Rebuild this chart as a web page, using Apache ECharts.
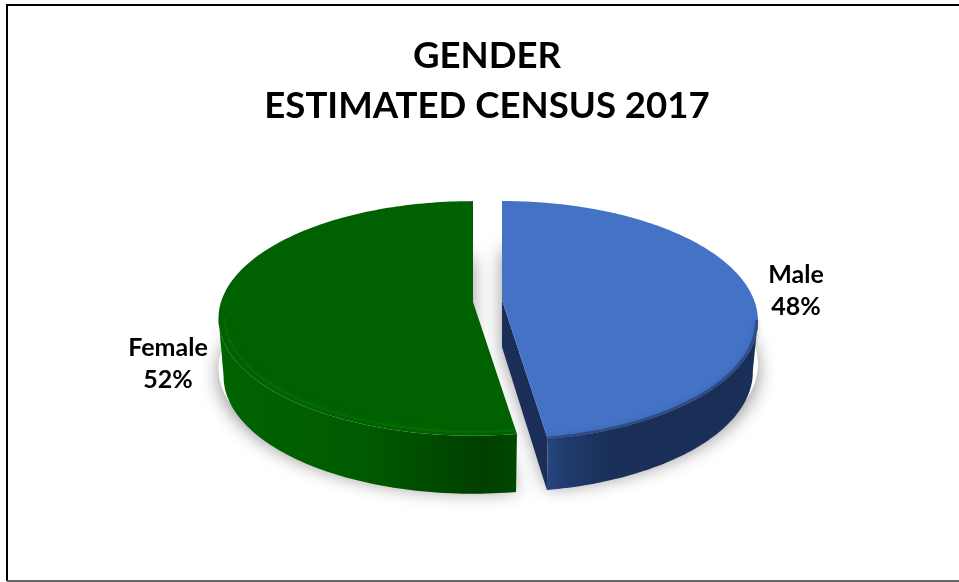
<!DOCTYPE html>
<html><head><meta charset="utf-8">
<style>html,body{margin:0;padding:0;background:#fff}#c{width:959px;height:582px}</style>
<script src="https://cdn.jsdelivr.net/npm/echarts@6/dist/echarts.min.js"></script>
</head><body><div id="c"></div>
<script>
const categories = ['Male', 'Female'];
const shares = [47.6, 52.4];
const titleLines = ['GENDER', 'ESTIMATED CENSUS 2017'];

const topColors = ['#4472C4', '#006100'];
const cutColor = '#1A2E58';
const wallStops = [
  [[0,'#28467F'],[0.10,'#203A6E'],[0.3,'#1B3059'],[1,'#1A2E58']],
  [[0,'#006400'],[0.5,'#005A00'],[0.88,'#003F00'],[1,'#004800']]
];
const bevelColors = ['rgba(26,46,88,0.5)', 'rgba(0,135,0,0.38)'];
const anchors = [[502,300],[473,302]];
const depths = [51, 58];
const radiusX = 252, radiiY = [116.3, 115], persps = [0.175, 0.14], bottomScale = 0.98;

const chart = echarts.init(document.getElementById('c'), null, {renderer:'canvas'});
const total = shares.reduce((a,b)=>a+b,0);

function proj(i, a, r) {
  const t = anchors[i], x = Math.sin(a)*r, y = -Math.cos(a)*r, w = 1 - persps[i]*y;
  return [t[0] + radiusX*x/w, t[1] + radiiY[i]*y/w];
}
function arc(i, a0, a1, r) {
  const n = 160, pts = [];
  for (let k=0;k<=n;k++) pts.push(proj(i, a0+(a1-a0)*k/n, r));
  return pts;
}
function angles(i, api) {
  const before = shares.slice(0,i).reduce((a,b)=>a+b,0);
  return [before/total*2*Math.PI, (before+api.value(1))/total*2*Math.PI];
}
function frontPart(i, pts) {
  const xs = pts.map(p=>p[0]);
  if (i===0) { return pts.slice(xs.indexOf(Math.max(...xs))); }
  return pts.slice(0, xs.indexOf(Math.min(...xs))+1);
}
function renderShadow(params, api) {
  const i = params.dataIndex, [a0,a1] = angles(i,api), t = anchors[i];
  const pts = [t].concat(arc(i,a0,a1,1)).map(p=>[p[0],p[1]+depths[i]-8]);
  return {type:'polygon',shape:{points:pts},
    style:{fill:'#fff',shadowBlur:18,shadowColor:'rgba(0,0,0,0.42)',shadowOffsetY:6}};
}
function renderBody(params, api) {
  const i = params.dataIndex, [a0,a1] = angles(i,api), t = anchors[i], d = depths[i];
  const down = p => [t[0]+(p[0]-t[0])*bottomScale, p[1]+d];
  const children = [];
  if (i===0) {
    const e = proj(i,a1,1);
    children.push({type:'polygon',shape:{points:[t,e,down(e),[t[0],t[1]+d-4]]},style:{fill:cutColor}});
  }
  const front = frontPart(i, arc(i,a0,a1,1));
  const stops = wallStops[i].map(s=>({offset:s[0],color:s[1]}));
  children.push({type:'polygon',
    shape:{points:front.concat(front.slice().reverse().map(down))},
    style:{fill:{type:'linear',x:0,y:0,x2:1,y2:0,colorStops:stops}}});
  return {type:'group',children};
}
function renderTop(params, api) {
  const i = params.dataIndex, [a0,a1] = angles(i,api);
  const inner = frontPart(i, arc(i,a0,a1,i===0?0.995:0.975));
  return {type:'group',children:[
    {type:'polygon',shape:{points:[anchors[i]].concat(arc(i,a0,a1,1))},style:{fill:topColors[i]}},
    {type:'polyline',shape:{points:inner},
      style:{fill:'none',stroke:bevelColors[i],lineWidth:i===0?3:2,shadowBlur:i===0?4:7,shadowColor:bevelColors[i]}}
  ]};
}
const data = categories.map((c,i)=>({name:c,value:[i,shares[i]]}));
const labelText = i => categories[i]+'\n'+Math.round(shares[i])+'%';
const labelStyle = {align:'center',verticalAlign:'middle',fontFamily:'Lato',fontWeight:'bold',fontSize:25,lineHeight:32,fill:'#000'};
chart.setOption({
  animation:false,
  backgroundColor:'#fff',
  title:{
    text:titleLines.join('\n'), left:482, top:26, textAlign:'center',
    textStyle:{fontFamily:'Lato',fontWeight:'bold',fontSize:36.6,lineHeight:50,color:'#000'}
  },
  graphic:[
    {type:'line',shape:{x1:7,y1:5,x2:959,y2:5},style:{stroke:'#000',lineWidth:2},silent:true},
    {type:'line',shape:{x1:7,y1:4,x2:7,y2:581},style:{stroke:'#000',lineWidth:2},silent:true},
    {type:'line',shape:{x1:7,y1:581,x2:959,y2:581},style:{stroke:'#666',lineWidth:2},silent:true},
    {type:'text',x:796,y:291,style:Object.assign({text:labelText(0)},labelStyle)},
    {type:'text',x:168,y:364,style:Object.assign({text:labelText(1)},labelStyle)}
  ],
  series:[
    {type:'custom',coordinateSystem:'none',renderItem:renderShadow,data:data,silent:true,z:1},
    {type:'custom',coordinateSystem:'none',renderItem:renderBody,data:data,silent:true,z:2},
    {type:'custom',coordinateSystem:'none',renderItem:renderTop,data:data,silent:true,z:3}
  ]
});
</script></body></html>
